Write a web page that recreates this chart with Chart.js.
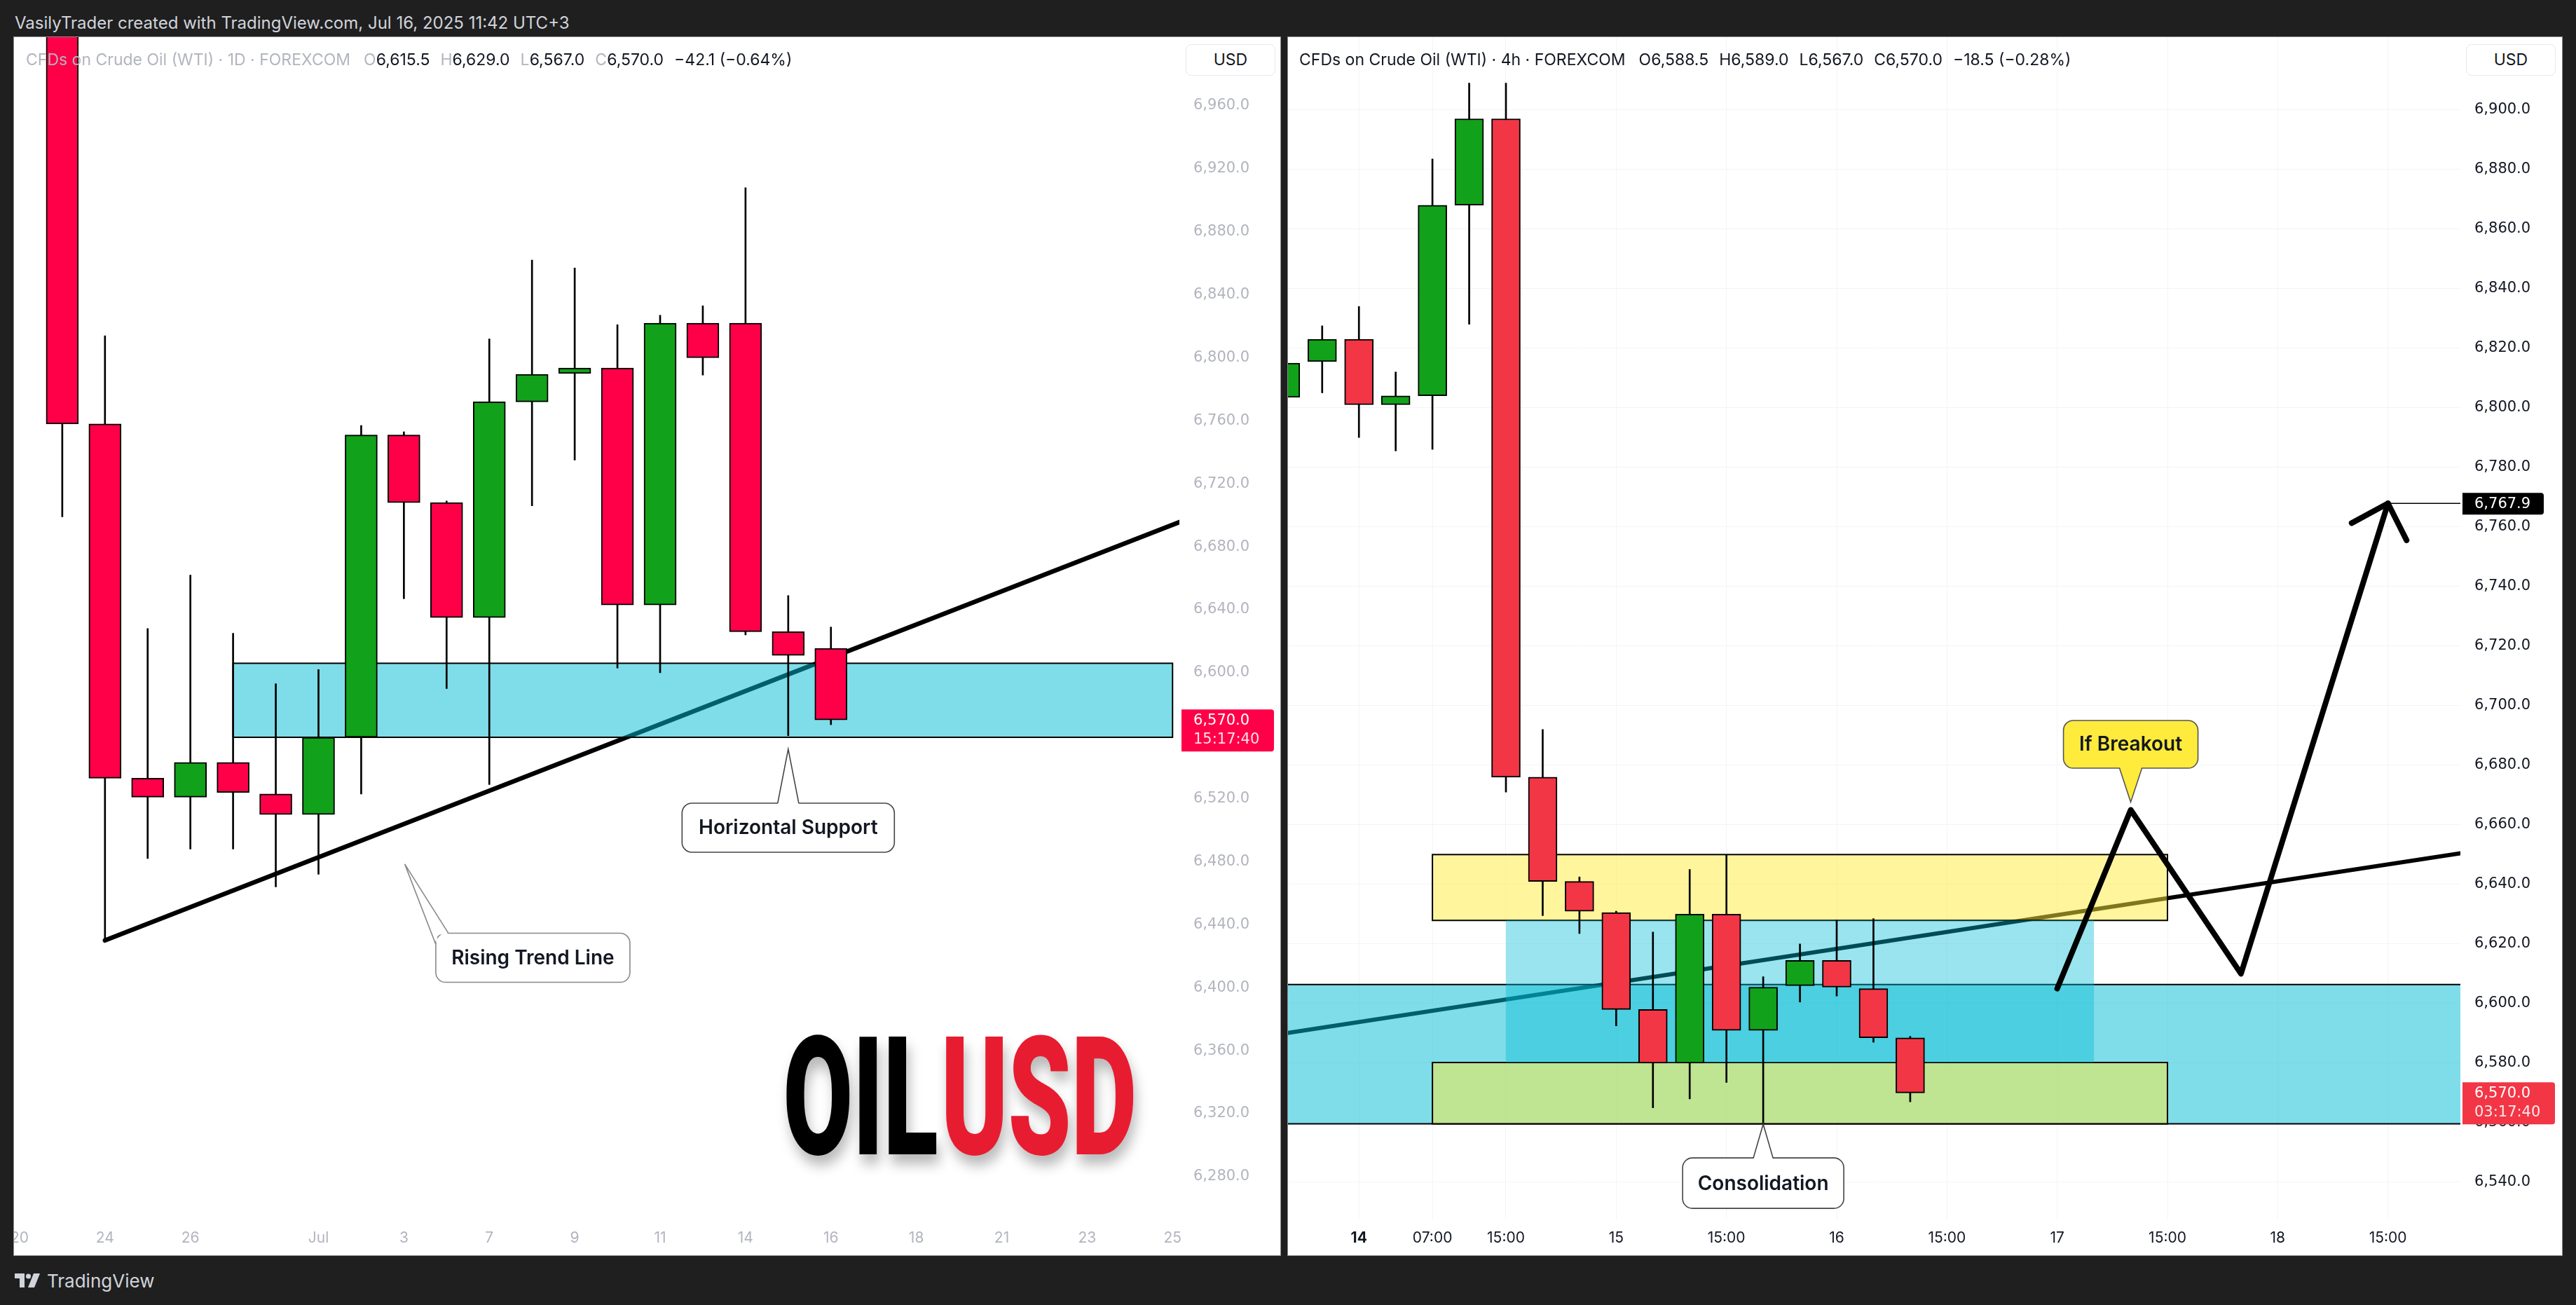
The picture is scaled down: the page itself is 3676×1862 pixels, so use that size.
<!DOCTYPE html>
<html>
<head>
<meta charset="utf-8">
<title>OILUSD</title>
<script src="https://cdn.jsdelivr.net/npm/chart.js@4.4.1/dist/chart.umd.min.js"></script>
<style>
  html, body { margin: 0; padding: 0; }
  body { width: 3676px; height: 1862px; background: #1f1f1f; position: relative; overflow: hidden; font-family: Inter, "Noto Sans", sans-serif; }
  #credit { position: absolute; left: 21px; top: 18px; font-size: 24px; line-height: 30px; color: #d1d4dc; white-space: nowrap; }
  .panel { position: absolute; top: 53px; height: 1738px; background: #fff; outline: 1px solid #8c8c8c; }
  #pl { left: 20px; width: 1807px; }
  #pr { left: 1838px; width: 1818px; }
  .panel canvas { position: absolute; left: 0; top: 0; }
  .legend { position: absolute; top: 18px; font-size: 23px; line-height: 28px; white-space: nowrap; display: flex; gap: 15px; }
  .legend .t { margin-right: 4px; }
  #pl .legend { left: 17px; color: #b2b5be; }
  #pl .legend b { color: #131722; font-weight: 400; }
  #pr .legend { left: 16px; color: #131722; }
  #pr .legend b { font-weight: 400; }
  .usd { position: absolute; top: 10px; width: 128px; height: 45px; box-sizing: border-box; border: 1px solid #e6e8ee; border-radius: 8px; background: #fff; text-align: center; line-height: 43px; font-size: 23px; color: #131722; }
  #pl .usd { left: 1672px; }
  #pr .usd { left: 1681px; }
  #footer { position: absolute; left: 21px; top: 1814px; height: 26px; display: flex; align-items: center; gap: 10px; color: #d1d4dc; font-size: 26px; }
</style>
</head>
<body>
<div id="credit">VasilyTrader created with TradingView.com, Jul 16, 2025 11:42 UTC+3</div>

<div class="panel" id="pl">
  <canvas id="dailyChart" width="1807" height="1738"></canvas>
  <div class="legend"><span class="t">CFDs on Crude Oil (WTI) · 1D · FOREXCOM</span><span>O<b>6,615.5</b></span><span>H<b>6,629.0</b></span><span>L<b>6,567.0</b></span><span>C<b>6,570.0</b></span><span><b>−42.1 (−0.64%)</b></span></div>
  <div class="usd">USD</div>
</div>

<div class="panel" id="pr">
  <canvas id="h4Chart" width="1818" height="1738"></canvas>
  <div class="legend"><span class="t">CFDs on Crude Oil (WTI) · 4h · FOREXCOM</span><span>O<b>6,588.5</b></span><span>H<b>6,589.0</b></span><span>L<b>6,567.0</b></span><span>C<b>6,570.0</b></span><span><b>−18.5 (−0.28%)</b></span></div>
  <div class="usd">USD</div>
</div>

<div id="footer">
  <svg width="36" height="20" viewBox="0 0 36 20"><path d="M0 0h14v20H7V7H0z" fill="#d1d4dc"/><circle cx="19.5" cy="4" r="3.6" fill="#d1d4dc"/><path d="M27 0h9l-8 20h-9z" fill="#d1d4dc"/></svg>
  <span>TradingView</span>
</div>

<script>
// daily panel
const dayTickIdx = [-1, 1, 3, 6, 8, 10, 12, 14, 16, 18, 20, 22, 24, 26];
const dayTickText = ['20', '24', '26', 'Jul', '3', '7', '9', '11', '14', '16', '18', '21', '23', '25'];
const dayPriceTicks = [6280, 6320, 6360, 6400, 6440, 6480, 6520, 6560, 6600, 6640, 6680, 6720, 6760, 6800, 6840, 6880, 6920, 6960];
const dayOpen  = [7040, 6758, 6533, 6521, 6543, 6523, 6510, 6559, 6751, 6708, 6635, 6772, 6790, 6793.5, 6643, 6822, 6822, 6626, 6615.5];
const dayHigh  = [7080, 6814, 6628, 6662, 6625, 6593, 6602, 6757, 6753, 6709, 6812, 6862, 6857, 6821, 6827, 6833, 6908, 6649, 6629];
const dayLow   = [6699, 6430, 6482, 6488, 6488, 6464, 6472, 6523, 6647, 6590, 6529, 6706, 6735, 6603, 6600, 6789, 6624, 6560, 6567];
const dayClose = [6758, 6533, 6521, 6543, 6524, 6510, 6559, 6751, 6708, 6635, 6772, 6789.5, 6793.5, 6643, 6822, 6800, 6626, 6611, 6570];

// 4h panel
const h4TickIdx = [2, 4, 6, 9, 12, 15, 18, 21, 24, 27, 30];
const h4TickText = ['14', '07:00', '15:00', '15', '15:00', '16', '15:00', '17', '15:00', '18', '15:00'];
const h4PriceTicks = [6540, 6560, 6580, 6600, 6620, 6640, 6660, 6680, 6700, 6720, 6740, 6760, 6780, 6800, 6820, 6840, 6860, 6880, 6900];
const h4Open  = [6803.5, 6815.5, 6823, 6801, 6804, 6868, 6897, 6676, 6641, 6630.5, 6598, 6580, 6630, 6591, 6606, 6614.5, 6605, 6588.5];
const h4High  = [6820, 6827.5, 6834, 6812, 6883.5, 6909, 6909, 6692, 6642.5, 6631, 6624, 6645, 6650, 6609, 6620, 6628, 6628.5, 6589];
const h4Low   = [6797, 6805, 6790, 6785.5, 6786, 6828, 6671, 6629.5, 6623.5, 6592.5, 6565, 6568, 6573.5, 6559.5, 6600.5, 6602.5, 6587, 6567];
const h4Close = [6815, 6823, 6801, 6804, 6868, 6897, 6676, 6641, 6631, 6598, 6580, 6630, 6591, 6605.5, 6614.5, 6605.5, 6588.5, 6570];

// drawings, in [bar index, price]
const dayTrend = [[1, 6430], [26.2, 6696]];
const daySupport = [4, 26, 6559, 6606];
const h4Trend = [[0, 6590], [32, 6650.5]];
const h4Support = [6559.6, 6606.4];
const h4Demand = [4, 24, 6559.6, 6580.2];
const h4Supply = [4, 24, 6627.9, 6650];
const h4Range = [6, 22, 6580.2, 6627.9];
const h4PathIdx = [21, 23, 26, 30];
const h4PathPrice = [6605, 6665, 6610, 6767.9];
const lastPrice = 6570;

const fmt = v => v.toLocaleString('en-US', { minimumFractionDigits: 1, maximumFractionDigits: 1 });

function candleSets(o, h, l, c, up, down, bodyW) {
  return [
    {
      data: o.map((v, k) => ({ x: k, y: [v, c[k]] })),
      backgroundColor: o.map((v, k) => c[k] >= v ? up : down),
      borderColor: '#000', borderWidth: 2, borderSkipped: false,
      barThickness: bodyW, grouped: false, order: 1, clip: 0
    },
    {
      data: l.map((v, k) => ({ x: k, y: [v, h[k]] })),
      backgroundColor: '#000', borderWidth: 0,
      barThickness: 2, grouped: false, order: 2, clip: 0
    }
  ];
}

function clipArea(ctx, a) {
  ctx.save();
  ctx.beginPath();
  ctx.rect(a.left, a.top, a.right - a.left, a.bottom - a.top);
  ctx.clip();
}

function strokePath(ctx, pts, w, color) {
  ctx.save();
  ctx.strokeStyle = color;
  ctx.lineWidth = w;
  ctx.lineCap = 'round';
  ctx.lineJoin = 'round';
  ctx.beginPath();
  pts.forEach((p, k) => k ? ctx.lineTo(p[0], p[1]) : ctx.moveTo(p[0], p[1]));
  ctx.stroke();
  ctx.restore();
}

function zone(ctx, x0, x1, y0, y1, fill, border) {
  ctx.fillStyle = fill;
  ctx.fillRect(x0, y0, x1 - x0, y1 - y0);
  if (border === 'box') {
    ctx.strokeStyle = '#000';
    ctx.lineWidth = 2;
    ctx.strokeRect(x0, y0, x1 - x0, y1 - y0);
  } else if (border === 'lines') {
    ctx.strokeStyle = '#000';
    ctx.lineWidth = 2;
    ctx.beginPath();
    ctx.moveTo(x0, y0); ctx.lineTo(x1, y0);
    ctx.moveTo(x0, y1); ctx.lineTo(x1, y1);
    ctx.stroke();
  }
}

// box: {cx, cy, w, h}; edge: pointer outline, fillPoly: pointer area
function callout(ctx, b, edge, fillPoly, text, fill, stroke) {
  const x = b.cx - b.w / 2, y = b.cy - b.h / 2;
  ctx.save();
  ctx.fillStyle = fill;
  ctx.strokeStyle = stroke;
  ctx.lineWidth = 1.6;
  ctx.beginPath();
  ctx.roundRect(x, y, b.w, b.h, 14);
  ctx.fill();
  ctx.stroke();
  ctx.beginPath();
  fillPoly.forEach((p, k) => k ? ctx.lineTo(p[0], p[1]) : ctx.moveTo(p[0], p[1]));
  ctx.closePath();
  ctx.fill();
  ctx.beginPath();
  edge.forEach((p, k) => k ? ctx.lineTo(p[0], p[1]) : ctx.moveTo(p[0], p[1]));
  ctx.stroke();
  ctx.fillStyle = '#131722';
  ctx.font = '600 28px Inter';
  ctx.textAlign = 'center';
  ctx.textBaseline = 'middle';
  ctx.fillText(text, b.cx, b.cy + 1);
  ctx.restore();
}

function priceTag(ctx, chart, price, lines, bg, width) {
  const a = chart.chartArea;
  const y = chart.scales.y.getPixelForValue(price);
  const h = lines.length > 1 ? 60 : 31;
  ctx.save();
  ctx.fillStyle = bg;
  ctx.beginPath();
  ctx.roundRect(a.right + 3, y - 15, width, h, [0, 4, 4, 0]);
  ctx.fill();
  ctx.font = '21px "DejaVu Sans"';
  ctx.textBaseline = 'middle';
  ctx.textAlign = 'left';
  lines.forEach((t, k) => {
    ctx.fillStyle = k ? 'rgba(255,255,255,0.88)' : '#fff';
    ctx.fillText(t, a.right + 20, y + 1 + k * 27);
  });
  ctx.restore();
}

function axes(p) {
  return {
    x: {
      type: 'linear', min: p.xMin, max: p.xMax, offset: false,
      grid: { display: p.grid, color: '#f3f4f6', offset: false, drawTicks: false },
      border: { display: false },
      afterBuildTicks: s => { s.ticks = p.tickIdx.map(v => ({ value: v })); },
      afterFit: s => { s.height = 51; s.paddingLeft = 0; s.paddingRight = 0; },
      ticks: {
        autoSkip: false, maxRotation: 0, padding: 14, color: p.textColor,
        font: c => ({ family: 'Inter', size: 21, weight: (p.boldTick !== undefined && c.tick && c.tick.value === p.boldTick) ? 'bold' : 'normal' }),
        callback: v => p.tickText[p.tickIdx.indexOf(v)]
      }
    },
    y: {
      type: 'linear', position: 'right', min: p.yMin, max: p.yMax, beginAtZero: false,
      grid: { display: p.grid, color: '#f3f4f6', drawTicks: false },
      border: { display: false },
      afterBuildTicks: s => { s.ticks = p.priceTicks.map(v => ({ value: v })); },
      afterFit: s => { s.width = p.axisW; s.paddingTop = 0; s.paddingBottom = 0; },
      ticks: { padding: 20, color: p.textColor, font: { family: 'DejaVu Sans', size: 21 }, callback: v => fmt(v) }
    }
  };
}

function buildChart(id, p, drawings) {
  const ctx = document.getElementById(id).getContext('2d');
  return new Chart(ctx, {
    type: 'bar',
    data: { datasets: candleSets(p.open, p.high, p.low, p.close, p.up, p.down, p.bodyW) },
    options: {
      responsive: false,
      animation: false,
      layout: { padding: 0 },
      plugins: { legend: { display: false }, tooltip: { enabled: false } },
      scales: axes(p)
    },
    plugins: [drawings]
  });
}

// daily drawings
const dailyDrawings = {
  id: 'dailyDrawings',
  beforeDatasetsDraw(chart) {
    const ctx = chart.ctx, X = v => chart.scales.x.getPixelForValue(v), Y = v => chart.scales.y.getPixelForValue(v);
    clipArea(ctx, chart.chartArea);
    strokePath(ctx, dayTrend.map(p => [X(p[0]), Y(p[1])]), 6.5, '#000');
    zone(ctx, X(daySupport[0]), X(daySupport[1]), Y(daySupport[3]), Y(daySupport[2]), 'rgba(0,188,212,0.5)', 'box');
    ctx.restore();
  },
  afterDatasetsDraw(chart) {
    const ctx = chart.ctx, X = v => chart.scales.x.getPixelForValue(v), Y = v => chart.scales.y.getPixelForValue(v);
    clipArea(ctx, chart.chartArea);

    // Horizontal Support
    let tip = [X(17), Y(6551.5)];
    let b = { cx: X(17), cy: Y(6501.6), w: 303, h: 70 };
    let top = b.cy - b.h / 2;
    callout(ctx, b,
      [[tip[0] - 15, top], tip, [tip[0] + 15, top]],
      [[tip[0] - 15, top + 2], tip, [tip[0] + 15, top + 2]],
      'Horizontal Support', '#fff', '#444');

    // Rising Trend Line
    tip = [X(8.02), Y(6478.5)];
    b = { cx: X(11.02), cy: Y(6419), w: 277, h: 70 };
    const left = b.cx - b.w / 2;
    top = b.cy - b.h / 2;
    callout(ctx, b,
      [[left, top + 16], tip, [left + 18, top]],
      [[left + 2, top + 16], tip, [left + 18, top + 2], [left + 2, top + 2]],
      'Rising Trend Line', '#fff', '#888');

    // OILUSD
    const x0 = X(16.88), x1 = X(25.16), yBase = Y(6294.2), yCap = Y(6369);
    const fs = (yBase - yCap) / 0.711;
    ctx.font = '900 ' + fs + 'px Roboto';
    const wO = ctx.measureText('OIL').width, wU = ctx.measureText('USD').width;
    const gap = 4, sx = (x1 - x0 - gap) / (wO + wU);
    ctx.save();
    ctx.shadowColor = 'rgba(0,0,0,0.28)';
    ctx.shadowBlur = 18;
    ctx.shadowOffsetX = 4;
    ctx.shadowOffsetY = 14;
    ctx.textBaseline = 'alphabetic';
    ctx.translate(x0, yBase);
    ctx.scale(sx, 1);
    ctx.fillStyle = '#000';
    ctx.fillText('OIL', 0, 0);
    ctx.fillStyle = '#e81c30';
    ctx.fillText('USD', wO + gap / sx, 0);
    ctx.restore();

    ctx.restore();
    priceTag(ctx, chart, lastPrice, [fmt(lastPrice), '15:17:40'], '#ff0048', 132);
  }
};

// 4h drawings
const h4Drawings = {
  id: 'h4Drawings',
  beforeDatasetsDraw(chart) {
    const ctx = chart.ctx, X = v => chart.scales.x.getPixelForValue(v), Y = v => chart.scales.y.getPixelForValue(v);
    const a = chart.chartArea;
    clipArea(ctx, a);
    strokePath(ctx, h4Trend.map(p => [X(p[0]), Y(p[1])]), 6, '#000');
    zone(ctx, a.left - 2, a.right, Y(h4Support[1]), Y(h4Support[0]), 'rgba(0,188,212,0.5)', 'lines');
    zone(ctx, X(h4Demand[0]), X(h4Demand[1]), Y(h4Demand[3]), Y(h4Demand[2]), 'rgba(255,235,59,0.5)', 'box');
    zone(ctx, X(h4Supply[0]), X(h4Supply[1]), Y(h4Supply[3]), Y(h4Supply[2]), 'rgba(255,235,59,0.5)', 'box');
    zone(ctx, X(h4Range[0]), X(h4Range[1]), Y(h4Range[3]), Y(h4Range[2]), 'rgba(0,188,212,0.4)', null);
    ctx.restore();
  },
  afterDatasetsDraw(chart) {
    const ctx = chart.ctx, X = v => chart.scales.x.getPixelForValue(v), Y = v => chart.scales.y.getPixelForValue(v);
    const a = chart.chartArea;
    clipArea(ctx, a);

    // projected path with arrow head
    const pts = h4PathIdx.map((v, k) => [X(v), Y(h4PathPrice[k])]);
    const tip = pts[pts.length - 1];
    ctx.save();
    ctx.strokeStyle = '#000';
    ctx.lineWidth = 1.5;
    ctx.beginPath();
    ctx.moveTo(tip[0], tip[1]);
    ctx.lineTo(a.right, tip[1]);
    ctx.stroke();
    ctx.restore();
    strokePath(ctx, pts, 8, '#000');
    const prev = pts[pts.length - 2];
    const ang = Math.atan2(prev[1] - tip[1], prev[0] - tip[0]);
    const wing = t => [tip[0] + 59 * Math.cos(ang + t), tip[1] + 59 * Math.sin(ang + t)];
    strokePath(ctx, [wing(0.77), tip, wing(-0.77)], 8, '#000');

    // If Breakout
    let t = [X(23), Y(6667.6)];
    let b = { cx: X(23), cy: Y(6687), w: 192, h: 68 };
    let bot = b.cy + b.h / 2;
    callout(ctx, b,
      [[t[0] - 16, bot], t, [t[0] + 16, bot]],
      [[t[0] - 16, bot - 2], t, [t[0] + 16, bot - 2]],
      'If Breakout', '#ffeb3b', '#555');

    // Consolidation
    t = [X(13), Y(6559.5)];
    b = { cx: X(13), cy: Y(6539.7), w: 230, h: 72 };
    const top = b.cy - b.h / 2;
    callout(ctx, b,
      [[t[0] - 14, top], t, [t[0] + 14, top]],
      [[t[0] - 14, top + 2], t, [t[0] + 14, top + 2]],
      'Consolidation', '#fff', '#444');

    ctx.restore();
    priceTag(ctx, chart, h4PathPrice[h4PathPrice.length - 1], [fmt(h4PathPrice[h4PathPrice.length - 1])], '#000', 116);
    priceTag(ctx, chart, lastPrice, [fmt(lastPrice), '03:17:40'], '#f23645', 132);
  }
};

buildChart('dailyChart', {
  open: dayOpen, high: dayHigh, low: dayLow, close: dayClose,
  up: '#12a11a', down: '#ff0048', bodyW: 46,
  xMin: -1.13, xMax: 26.16, yMin: 6252.8, yMax: 7003.6,
  tickIdx: dayTickIdx, tickText: dayTickText, priceTicks: dayPriceTicks,
  textColor: '#b2b5be', grid: false, axisW: 144
}, dailyDrawings);

buildChart('h4Chart', {
  open: h4Open, high: h4High, low: h4Low, close: h4Close,
  up: '#12a11a', down: '#f23645', bodyW: 41,
  xMin: 0.07, xMax: 31.97, yMin: 6527.5, yMax: 6924.4,
  tickIdx: h4TickIdx, tickText: h4TickText, priceTicks: h4PriceTicks,
  textColor: '#131722', grid: true, axisW: 145, boldTick: 2
}, h4Drawings);
</script>
</body>
</html>
